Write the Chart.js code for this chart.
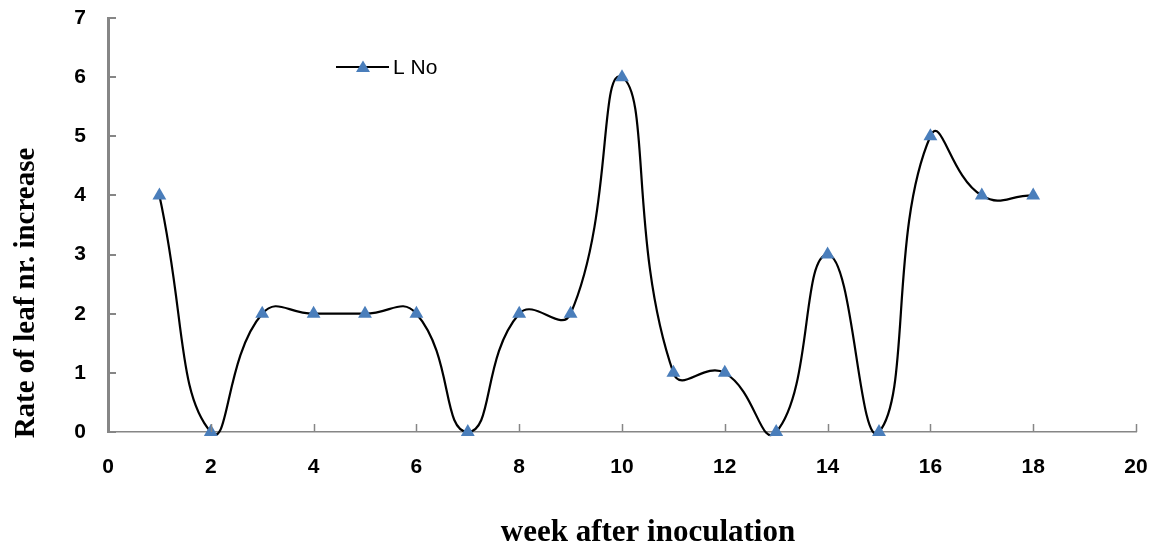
<!DOCTYPE html>
<html>
<head>
<meta charset="utf-8">
<script src="https://cdn.jsdelivr.net/npm/chart.js@4/dist/chart.umd.min.js"></script>
<style>
html,body{margin:0;padding:0;background:#fff;}
#wrap{width:1157px;height:548px;position:relative;}
</style>
</head>
<body>
<div id="wrap"><canvas id="c" width="1157" height="548"></canvas></div>
<script>
const weeks = [1,2,3,4,5,6,7,8,9,10,11,12,13,14,15,16,17,18];
const leafRate = [4,0,2,2,2,2,0,2,2,6,1,1,0,3,0,5,4,4];
const seriesLabel = 'L No';
const xTitle = 'week after inoculation';
const yTitle = 'Rate of leaf nr. increase';
const xRange = [0, 20, 2];
const yRange = [0, 7, 1];

const points = weeks.map((w, i) => ({x: w, y: leafRate[i]}));
const markerColor = '#4A7EBB';
const axisColor = '#868686';

const decor = {
  id: 'decor',
  afterDraw(chart) {
    const ctx = chart.ctx;
    const xs = chart.scales.x, ys = chart.scales.y;
    const area = chart.chartArea;
    ctx.save();
    // inward tick marks
    ctx.strokeStyle = axisColor;
    ctx.lineWidth = 2;
    for (let v = yRange[0]; v <= yRange[1]; v += yRange[2]) {
      const py = Math.round(ys.getPixelForValue(v));
      ctx.beginPath(); ctx.moveTo(area.left, py); ctx.lineTo(area.left + 8, py); ctx.stroke();
    }
    ctx.lineWidth = 1.5;
    for (let v = xRange[0] + xRange[2]; v <= xRange[1]; v += xRange[2]) {
      const px = Math.round(xs.getPixelForValue(v)) + 0.5;
      ctx.beginPath(); ctx.moveTo(px, area.bottom); ctx.lineTo(px, area.bottom - 8); ctx.stroke();
    }
    // axis titles
    ctx.fillStyle = '#000';
    ctx.textAlign = 'center';
    ctx.textBaseline = 'alphabetic';
    ctx.font = 'bold 31px "Liberation Serif", "Times New Roman", serif';
    ctx.fillText(xTitle, 648, 541);
    ctx.font = 'bold 29px "Liberation Serif", "Times New Roman", serif';
    ctx.translate(34, 293);
    ctx.rotate(-Math.PI / 2);
    ctx.fillText(yTitle, 0, 0);
    ctx.restore();
    // legend
    ctx.save();
    const ly = 67;
    ctx.strokeStyle = '#000';
    ctx.lineWidth = 2;
    ctx.beginPath(); ctx.moveTo(336, ly); ctx.lineTo(389, ly); ctx.stroke();
    ctx.fillStyle = markerColor;
    ctx.beginPath();
    ctx.moveTo(363, ly - 6.5); ctx.lineTo(370, ly + 5); ctx.lineTo(356, ly + 5); ctx.closePath(); ctx.fill();
    ctx.fillStyle = '#000';
    ctx.font = '21px "Liberation Sans", Arial, sans-serif';
    ctx.textAlign = 'left';
    ctx.textBaseline = 'middle';
    ctx.fillText(chart.data.datasets[0].label, 393, ly + 1);
    ctx.restore();
  }
};

new Chart(document.getElementById('c'), {
  type: 'line',
  data: {
    datasets: [{
      label: seriesLabel,
      data: points,
      borderColor: '#000',
      borderWidth: 2.2,
      tension: 0.5,
      pointStyle: 'triangle',
      pointRadius: 8,
      pointBackgroundColor: markerColor,
      pointBorderColor: markerColor,
      pointBorderWidth: 0,
      clip: false
    }]
  },
  options: {
    responsive: false,
    animation: false,
    devicePixelRatio: 1,
    layout: {padding: {left: 0, right: 21, top: 18, bottom: 0}},
    elements: {line: {capBezierPoints: false}},
    plugins: {legend: {display: false}, tooltip: {enabled: false}},
    scales: {
      x: {
        type: 'linear',
        min: xRange[0], max: xRange[1],
        ticks: {stepSize: xRange[2], color: '#000', padding: 23,
          font: {family: '"Liberation Sans", Arial, sans-serif', size: 21, weight: 'bold'}},
        grid: {display: true, drawOnChartArea: false, drawTicks: false},
        border: {color: axisColor, width: 1.5},
        afterFit(s) { s.height = 116; s.paddingLeft = 0; s.paddingRight = 0; }
      },
      y: {
        type: 'linear',
        min: yRange[0], max: yRange[1],
        ticks: {stepSize: yRange[2], color: '#000', padding: 22,
          font: {family: '"Liberation Sans", Arial, sans-serif', size: 21, weight: 'bold'}},
        grid: {display: true, drawOnChartArea: false, drawTicks: false},
        border: {color: axisColor, width: 3},
        afterFit(s) { s.width = 108; s.paddingTop = 0; s.paddingBottom = 0; }
      }
    }
  },
  plugins: [decor]
});
</script>
</body>
</html>
